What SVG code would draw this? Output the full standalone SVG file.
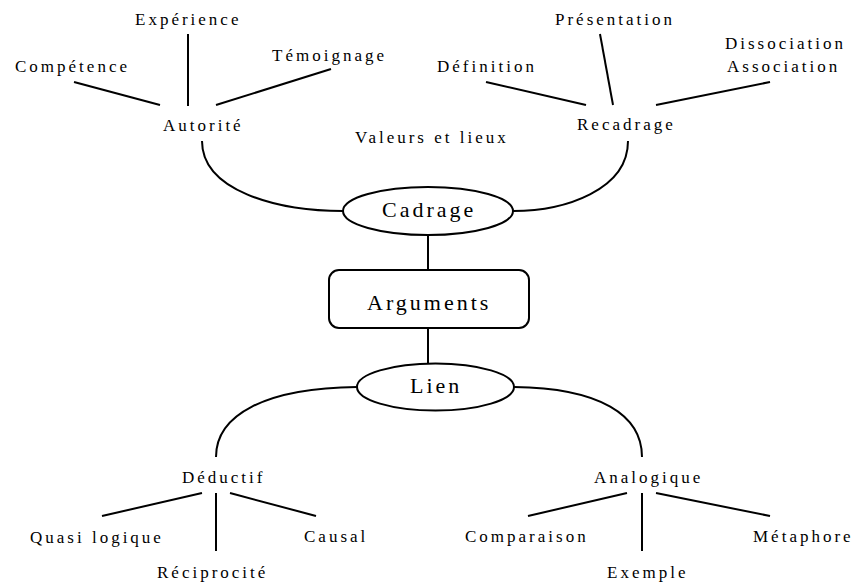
<svg xmlns="http://www.w3.org/2000/svg" width="857" height="585" viewBox="0 0 857 585">
<style>
text{font-family:"Liberation Serif","DejaVu Serif","Noto Serif","Times New Roman",Times,serif;letter-spacing:3px;fill:#000}
.t{font-size:17px}
.b{font-size:22px}
.s{fill:none;stroke:#000;stroke-width:2}
.n{fill:#fff;stroke:#000;stroke-width:2}
</style>
<rect width="857" height="585" fill="#fff"/>
<g id="connectors" class="s">
<line x1="188" y1="34" x2="188" y2="106"/>
<line x1="74" y1="82" x2="160" y2="105"/>
<line x1="331" y1="69" x2="216" y2="105"/>
<line x1="600" y1="34" x2="613" y2="105"/>
<line x1="486" y1="82" x2="586" y2="105"/>
<line x1="770" y1="82" x2="656" y2="105"/>
<path d="M202,141 C202,190 275,211 343,211"/>
<path d="M628,141 C628,190 565,211 513,211"/>
<line x1="428" y1="234" x2="428" y2="270"/>
<line x1="428" y1="328" x2="428" y2="364"/>
<path d="M357,387 C265,388 216,415 216,457"/>
<path d="M514,387 C600,388 642,415 642,457"/>
<line x1="202" y1="493" x2="102" y2="516"/>
<line x1="216" y1="493" x2="216" y2="551"/>
<line x1="230" y1="493" x2="316" y2="516"/>
<line x1="627" y1="493" x2="528" y2="516"/>
<line x1="642" y1="493" x2="642" y2="551"/>
<line x1="656" y1="493" x2="770" y2="516"/>
</g>
<g font-family="Liberation Serif, DejaVu Serif, serif">
<g id="experience"><text class="t" x="135" y="25">Expérience</text></g>
<g id="competence"><text class="t" x="15" y="72">Compétence</text></g>
<g id="temoignage"><text class="t" x="272" y="61">Témoignage</text></g>
<g id="autorite"><text class="t" x="163" y="131">Autorité</text></g>
<g id="valeurs"><text class="t" x="355" y="143">Valeurs et lieux</text></g>
<g id="presentation"><text class="t" x="555" y="25">Présentation</text></g>
<g id="definition"><text class="t" x="437" y="72">Définition</text></g>
<g id="dissociation"><text class="t" x="725" y="49">Dissociation</text><text class="t" x="727" y="72">Association</text></g>
<g id="recadrage"><text class="t" x="577" y="130">Recadrage</text></g>
<g id="cadrage"><ellipse class="n" cx="428" cy="211" rx="85" ry="24"/><text class="b" x="382" y="217">Cadrage</text></g>
<g id="arguments"><rect class="n" x="329" y="270" width="200" height="58" rx="10"/><text class="b" x="367" y="310">Arguments</text></g>
<g id="lien"><ellipse class="n" cx="435.5" cy="387" rx="78.5" ry="23.5"/><text class="b" x="410" y="393">Lien</text></g>
<g id="deductif"><text class="t" x="182" y="483">Déductif</text></g>
<g id="analogique"><text class="t" x="594" y="483">Analogique</text></g>
<g id="quasi"><text class="t" x="30" y="543">Quasi logique</text></g>
<g id="causal"><text class="t" x="304" y="542">Causal</text></g>
<g id="reciprocite"><text class="t" x="157" y="578">Réciprocité</text></g>
<g id="comparaison"><text class="t" x="465" y="542">Comparaison</text></g>
<g id="metaphore"><text class="t" x="753" y="542">Métaphore</text></g>
<g id="exemple"><text class="t" x="607" y="578">Exemple</text></g>
</g>
</svg>
